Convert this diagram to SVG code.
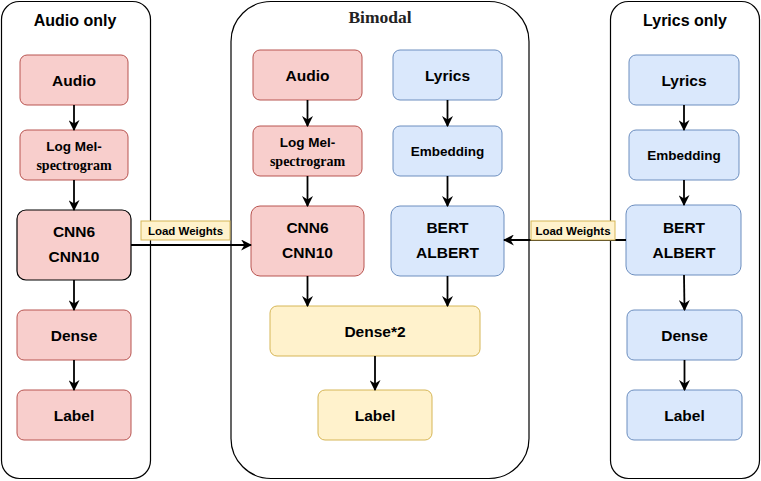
<svg xmlns="http://www.w3.org/2000/svg" width="761" height="481" viewBox="0 0 761 481">
<defs>
<marker id="arr" viewBox="0 0 10 10" refX="9" refY="5" markerWidth="11" markerHeight="11" markerUnits="userSpaceOnUse" orient="auto">
<path d="M0,0 L10,5 L0,10 L3,5 Z" fill="#000"/>
</marker>
<style>
.cont{fill:#fff;stroke:#000;stroke-width:1.2}
.red{fill:#f8cecc;stroke:#b85450;stroke-width:1}
.redk{fill:#f8cecc;stroke:#000;stroke-width:1.2}
.blue{fill:#dae8fc;stroke:#6c8ebf;stroke-width:1}
.yel{fill:#fff2cc;stroke:#d6b656;stroke-width:1}
.t{font-family:"Liberation Sans",Arial,sans-serif;font-weight:bold;fill:#000;text-anchor:middle}
.n{font-size:15.5px}
.s{font-size:13.5px}
.ser{font-family:"Liberation Serif","Times New Roman",serif;font-weight:bold;fill:#000;text-anchor:middle;font-size:14px}
.title{font-size:16px}
.lw{font-size:11.5px}
.c{fill:none;stroke:#000;stroke-width:1.8;marker-end:url(#arr)}
</style>
</defs>
<rect width="761" height="481" fill="#fff"/>

<g id="audio-only">
<rect class="cont" x="1.5" y="1.5" width="149" height="477" rx="18"/>
<text class="t title" x="75" y="26">Audio only</text>
</g>
<g id="bimodal">
<rect class="cont" x="231" y="1.5" width="298" height="477" rx="40"/>
<text class="ser" style="font-size:17.5px;fill:#222" x="380" y="23">Bimodal</text>
</g>
<g id="lyrics-only">
<rect class="cont" x="610.5" y="1.5" width="149" height="477" rx="18"/>
<text class="t title" x="685" y="26">Lyrics only</text>
</g>

<g id="a-audio"><rect class="red" x="20" y="55" width="108" height="50" rx="7"/><text class="t n" x="74" y="85.5">Audio</text></g>
<g id="a-logmel"><rect class="red" x="20" y="130" width="108" height="50" rx="7"/><text class="t s" x="74" y="151">Log Mel-</text><text class="ser" x="74" y="169.5">spectrogram</text></g>
<g id="a-cnn"><rect class="redk" x="17" y="210" width="114" height="70" rx="9"/><text class="t n" x="74" y="237">CNN6</text><text class="t n" x="74" y="262">CNN10</text></g>
<g id="a-dense"><rect class="red" x="17" y="310" width="114" height="50" rx="7"/><text class="t n" x="74" y="340.5">Dense</text></g>
<g id="a-label"><rect class="red" x="17" y="390" width="114" height="50" rx="7"/><text class="t n" x="74" y="420.5">Label</text></g>

<g id="b-audio"><rect class="red" x="253" y="50" width="109" height="50" rx="7"/><text class="t n" x="307.5" y="80.5">Audio</text></g>
<g id="b-lyrics"><rect class="blue" x="393" y="50" width="109" height="50" rx="7"/><text class="t n" x="447.5" y="80.5">Lyrics</text></g>
<g id="b-logmel"><rect class="red" x="253" y="126" width="109" height="50" rx="7"/><text class="t s" x="307.5" y="147">Log Mel-</text><text class="ser" x="307.5" y="165.5">spectrogram</text></g>
<g id="b-embedding"><rect class="blue" x="393" y="126" width="109" height="50" rx="7"/><text class="t s" x="447.5" y="156">Embedding</text></g>
<g id="b-cnn"><rect class="red" x="251" y="206" width="113" height="70" rx="9"/><text class="t n" x="307.5" y="233">CNN6</text><text class="t n" x="307.5" y="258">CNN10</text></g>
<g id="b-bert"><rect class="blue" x="391" y="206" width="113" height="70" rx="9"/><text class="t n" x="447.5" y="233">BERT</text><text class="t n" x="447.5" y="258">ALBERT</text></g>
<g id="b-dense"><rect class="yel" x="270" y="306" width="210" height="50" rx="7"/><text class="t n" x="375" y="336.5">Dense*2</text></g>
<g id="b-label"><rect class="yel" x="318" y="390" width="114" height="50" rx="7"/><text class="t n" x="375" y="420.5">Label</text></g>

<g id="l-lyrics"><rect class="blue" x="629" y="55" width="110" height="50" rx="7"/><text class="t n" x="684" y="85.5">Lyrics</text></g>
<g id="l-embedding"><rect class="blue" x="629" y="130" width="110" height="50" rx="7"/><text class="t s" x="684" y="160">Embedding</text></g>
<g id="l-bert"><rect class="blue" x="626" y="205" width="115" height="70" rx="9"/><text class="t n" x="684" y="233">BERT</text><text class="t n" x="684" y="258">ALBERT</text></g>
<g id="l-dense"><rect class="blue" x="627" y="310" width="115" height="50" rx="7"/><text class="t n" x="684.5" y="340.5">Dense</text></g>
<g id="l-label"><rect class="blue" x="627" y="390" width="115" height="50" rx="7"/><text class="t n" x="684.5" y="420.5">Label</text></g>

<g id="connectors">
<line class="c" x1="74" y1="105" x2="74" y2="130"/>
<line class="c" x1="74" y1="180" x2="74" y2="210"/>
<line class="c" x1="74" y1="280" x2="74" y2="310"/>
<line class="c" x1="74" y1="360" x2="74" y2="390"/>
<line class="c" x1="307.5" y1="100" x2="307.5" y2="126"/>
<line class="c" x1="307.5" y1="176" x2="307.5" y2="206"/>
<line class="c" x1="447.5" y1="100" x2="447.5" y2="126"/>
<line class="c" x1="447.5" y1="176" x2="447.5" y2="206"/>
<line class="c" x1="307.5" y1="276" x2="307.5" y2="306"/>
<line class="c" x1="447.5" y1="276" x2="447.5" y2="306"/>
<line class="c" x1="375" y1="356" x2="375" y2="390"/>
<line class="c" x1="684" y1="105" x2="684" y2="130"/>
<line class="c" x1="684" y1="180" x2="684" y2="205"/>
<line class="c" x1="684" y1="275" x2="684.5" y2="310"/>
<line class="c" x1="684.5" y1="360" x2="684.5" y2="390"/>
<line class="c" x1="131" y1="245" x2="251" y2="245"/>
<line class="c" x1="626" y1="240" x2="504" y2="240"/>
<g id="lw-left"><rect class="yel" x="141" y="221" width="89" height="19"/><text class="t lw" x="185.5" y="234.5">Load Weights</text></g>
<g id="lw-right"><rect class="yel" x="531" y="221" width="84" height="19"/><text class="t lw" x="573" y="234.5">Load Weights</text></g>
</g>
</svg>
